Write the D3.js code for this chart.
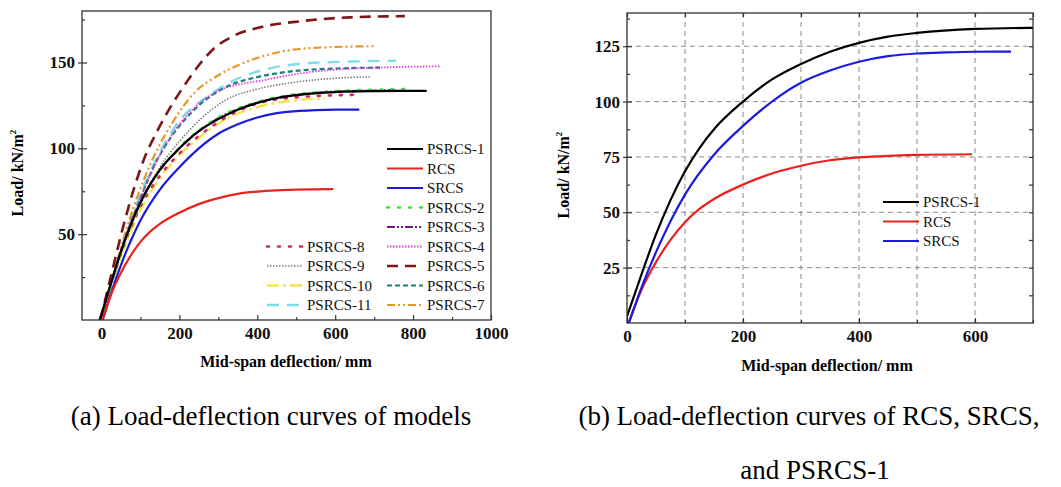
<!DOCTYPE html>
<html>
<head>
<meta charset="utf-8">
<script src="https://cdn.jsdelivr.net/npm/d3@7"></script>
<style>
  body { margin: 0; background: #fff; }
  svg { display: block; font-family: "Liberation Serif", "Times New Roman", serif; }
</style>
</head>
<body>
<div id="chart"></div>
<script>
// Load-deflection data: [deflection (mm), load (kN/m2)]
const psrcs1 = [[-4,0],[25,22],[50,40],[75,55.5],[100,68.5],[125,79],[150,87.5],[200,100],[250,110],[300,117],[350,122.5],[400,126.5],[450,129.3],[500,131],[600,132.8],[700,133.3],[835,133.5]];
const rcs = [[3,0],[25,15],[50,27.5],[75,37.5],[100,45.5],[125,51.5],[150,56],[200,62.5],[250,67.5],[300,71],[350,73.5],[400,74.8],[450,75.5],[500,75.9],[595,76.2]];
const srcs = [[3,0],[25,16],[50,32],[75,46],[100,58],[150,76],[200,89],[250,100],[300,108.5],[350,114],[400,118],[450,120.5],[500,121.7],[550,122.2],[600,122.5],[662,122.6]];
const psrcs2 = [[-2,0],[25,21.5],[50,39.5],[75,55],[100,68],[150,87],[200,100.5],[250,110.5],[300,118],[400,127],[500,131.5],[600,133.3],[700,134.2],[791,134.5]];
const psrcs3 = [[-2,0],[25,22],[50,40],[75,55.5],[100,68.5],[150,87.5],[200,100],[250,110],[300,117.5],[400,126.5],[500,131],[600,133],[760,133.8]];
const psrcs4 = [[-5,0],[30,25],[60,47],[100,71],[150,96],[200,114],[250,126],[305,134],[424,140],[520,144],[650,146.5],[868,147.8]];
const psrcs5 = [[-3,0],[28,29],[53,52],[80,74],[108,93],[143,110],[177,124],[211,136],[252,149],[288,158],[339,165.5],[407,170.5],[510,174],[638,176.3],[779,177]];
const psrcs6 = [[-5,0],[30,25],[60,47],[100,71],[140,92],[177,106],[236,122],[322,136],[400,141.5],[493,145],[600,146.5],[715,147]];
const psrcs7 = [[-5,0],[30,26],[60,50],[83,66],[134,95],[185,116],[237,132],[296,142],[356,149],[420,154],[493,157.5],[595,159],[702,159.5]];
const psrcs8 = [[-2,0],[25,21],[50,38.5],[75,53.5],[100,66],[150,84],[200,97],[288,113.5],[399,126],[518,130],[655,131.2]];
const psrcs9 = [[-5,0],[30,24],[60,45],[100,67],[150,89],[200,104],[236,113],[322,128.5],[400,134.5],[493,138.4],[600,140.8],[693,141.7]];
const psrcs10 = [[-5,0],[25,20],[50,37],[75,51.5],[100,64],[150,82.5],[200,96],[250,106],[300,114.5],[400,124],[500,128],[574,129]];
const psrcs11 = [[-5,0],[30,25],[60,48],[100,73],[150,98],[200,116],[271,130],[339,139.5],[441,147],[530,149.5],[629,150.5],[757,151]];

const seriesNames = ['PSRCS-1','RCS','SRCS','PSRCS-2','PSRCS-3','PSRCS-4','PSRCS-5','PSRCS-6','PSRCS-7','PSRCS-8','PSRCS-9','PSRCS-10','PSRCS-11'];
const seriesData = [psrcs1, rcs, srcs, psrcs2, psrcs3, psrcs4, psrcs5, psrcs6, psrcs7, psrcs8, psrcs9, psrcs10, psrcs11];
const panelBNames = ['PSRCS-1','RCS','SRCS'];

const xTicksA = [0, 200, 400, 600, 800, 1000];
const yTicksA = [50, 100, 150];
const xTicksB = [0, 200, 400, 600];
const yTicksB = [25, 50, 75, 100, 125];

// line styles per series
const styles = {
  'PSRCS-1': { color: '#000000', dash: null, w: 2.2 },
  'RCS': { color: '#e8231f', dash: null, w: 2.2 },
  'SRCS': { color: '#1b1bd9', dash: null, w: 2.2 },
  'PSRCS-2': { color: '#3ee23e', dash: '2,9', w: 2.6, cap: 'round' },
  'PSRCS-3': { color: '#6b1d7c', dash: '8,2,2,2,2,2', w: 2.2 },
  'PSRCS-4': { color: '#e03ee0', dash: '1.5,1.5', w: 1.8 },
  'PSRCS-5': { color: '#7c1717', dash: '11,7', w: 2.6 },
  'PSRCS-6': { color: '#1d7f78', dash: '5,3', w: 2.2 },
  'PSRCS-7': { color: '#e8962b', dash: '8,3,2,3,2,3', w: 2.2 },
  'PSRCS-8': { color: '#d6266f', dash: '2,9', w: 2.6, cap: 'round' },
  'PSRCS-9': { color: '#808080', dash: '1.5,1.5', w: 1.6 },
  'PSRCS-10': { color: '#f2e64a', dash: '12,4,3,4', w: 2.4 },
  'PSRCS-11': { color: '#7fdde8', dash: '12,8', w: 2.4 }
};

const FONT = '"Liberation Serif", "Times New Roman", serif';

const svg = d3.select('#chart').append('svg')
    .attr('width', 1061)
    .attr('height', 487);

const line = (x, y) => d3.line().x(d => x(d[0])).y(d => y(d[1])).curve(d3.curveMonotoneX);

function styleLabels(a) {
    a.attr('font-family', FONT);
    a.selectAll('text').attr('font-size', 17).attr('font-weight', 'bold').attr('fill', '#111');
}

function drawPanel(id, x, y, xTicks, yTicks, xMinor, yMinor, mirror) {
    const g = svg.append('g');
    const [x0, x1] = x.range();
    const [y0, y1] = y.range();

    g.append('clipPath').attr('id', id)
        .append('rect').attr('x', x0).attr('y', y1).attr('width', x1 - x0).attr('height', y0 - y1);

    // bottom axis: major and minor ticks pointing inward
    g.append('g').attr('transform', `translate(0,${y0})`)
        .call(d3.axisBottom(x).tickValues(xMinor).tickSize(-3).tickFormat(''))
        .call(a => a.select('.domain').remove());
    g.append('g').attr('transform', `translate(0,${y0})`)
        .call(d3.axisBottom(x).tickValues(xTicks).tickSizeInner(-5).tickSizeOuter(0).tickPadding(7).tickFormat(d3.format('d')))
        .call(a => a.select('.domain').remove())
        .call(styleLabels);

    // left axis
    g.append('g').attr('transform', `translate(${x0},0)`)
        .call(d3.axisLeft(y).tickValues(yMinor).tickSize(-3).tickFormat(''))
        .call(a => a.select('.domain').remove());
    g.append('g').attr('transform', `translate(${x0},0)`)
        .call(d3.axisLeft(y).tickValues(yTicks).tickSizeInner(4).tickSizeOuter(0).tickPadding(3))
        .call(a => a.select('.domain').remove())
        .call(styleLabels)
        .call(a => a.selectAll('line').attr('x2', 0).attr('x1', -4).clone().attr('x1', 0).attr('x2', 5));

    if (mirror) {
        g.append('g').attr('transform', `translate(0,${y1})`)
            .call(d3.axisTop(x).tickValues(xTicks.concat(xMinor)).tickSize(-4).tickFormat(''))
            .call(a => a.select('.domain').remove());
        g.append('g').attr('transform', `translate(${x1},0)`)
            .call(d3.axisRight(y).tickValues(yTicks.concat(yMinor)).tickSize(-4).tickFormat(''))
            .call(a => a.select('.domain').remove());
    }

    g.selectAll('.tick line').attr('stroke', '#333').attr('stroke-width', 1.2);
    return g;
}

// ---------- panel (a) ----------
const xA = d3.scaleLinear().domain([-50, 1000]).range([82, 491]);
const yA = d3.scaleLinear().domain([0, 180]).range([320, 11]);
const gA = drawPanel('clipA', xA, yA, xTicksA, yTicksA, [100, 300, 500, 700, 900], [25, 75, 125, 175], false);

gA.append('g').attr('clip-path', 'url(#clipA)')
  .selectAll('path')
  .data(seriesNames.map((n, i) => ({ name: n, values: seriesData[i] })).reverse())
  .enter().append('path')
    .attr('d', d => line(xA, yA)(d.values))
    .attr('fill', 'none')
    .attr('stroke', d => styles[d.name].color)
    .attr('stroke-width', d => styles[d.name].w)
    .attr('stroke-dasharray', d => styles[d.name].dash)
    .attr('stroke-linecap', d => styles[d.name].cap || 'butt');

gA.append('rect').attr('x', 82).attr('y', 11).attr('width', 409).attr('height', 309)
    .attr('fill', 'none').attr('stroke', '#333').attr('stroke-width', 1.3);

// legend (a): right column for first nine, left column for last four
const legA = gA.append('g');
seriesNames.forEach((n, i) => {
    const col = i < 9 ? 0 : 1;
    const row = i < 9 ? i : i - 4;
    const lx = col === 0 ? 387 : 267;
    const ly = 149 + row * 19.5;
    legA.append('line').attr('x1', lx).attr('x2', lx + 36).attr('y1', ly).attr('y2', ly)
        .attr('stroke', styles[n].color).attr('stroke-width', styles[n].w)
        .attr('stroke-dasharray', styles[n].dash).attr('stroke-linecap', styles[n].cap || 'butt');
    legA.append('text').attr('x', lx + 40).attr('y', ly).attr('dy', '0.35em')
        .attr('font-size', 15).attr('fill', '#111').text(n);
});

// axis titles (a)
svg.append('text').attr('x', 286).attr('y', 367).attr('text-anchor', 'middle')
    .attr('font-size', 16).attr('font-weight', 'bold').text('Mid-span deflection/ mm');
const ytA = svg.append('text').attr('transform', 'translate(23,173) rotate(-90)').attr('text-anchor', 'middle')
    .attr('font-size', 16).attr('font-weight', 'bold');
ytA.append('tspan').text('Load/ kN/m');
ytA.append('tspan').attr('font-size', 9).attr('dy', -7).text('2');

// ---------- panel (b) ----------
const xB = d3.scaleLinear().domain([0, 700]).range([627, 1033]);
const yB = d3.scaleLinear().domain([0, 140]).range([323, 13]);

// dashed grid
const gridB = svg.append('g');
gridB.selectAll('.gx').data([100, 200, 300, 400, 500, 600]).enter().append('line')
    .attr('x1', d => xB(d)).attr('x2', d => xB(d)).attr('y1', 13).attr('y2', 323);
gridB.selectAll('.gy').data(yTicksB).enter().append('line')
    .attr('y1', d => yB(d)).attr('y2', d => yB(d)).attr('x1', 627).attr('x2', 1033);
gridB.selectAll('line').attr('stroke', '#8a8a8a').attr('stroke-width', 1).attr('stroke-dasharray', '5,4');

const gB = drawPanel('clipB', xB, yB, xTicksB, yTicksB, [100, 300, 500, 700], [12.5, 37.5, 62.5, 87.5, 112.5, 137.5], true);

gB.append('g').attr('clip-path', 'url(#clipB)')
  .selectAll('path')
  .data(panelBNames.map(n => ({ name: n, values: seriesData[seriesNames.indexOf(n)] })))
  .enter().append('path')
    .attr('d', d => line(xB, yB)(d.values))
    .attr('fill', 'none')
    .attr('stroke', d => styles[d.name].color)
    .attr('stroke-width', 2.2);

gB.append('rect').attr('x', 627).attr('y', 13).attr('width', 406).attr('height', 310)
    .attr('fill', 'none').attr('stroke', '#333').attr('stroke-width', 1.3);

const legB = gB.append('g');
panelBNames.forEach((n, i) => {
    const ly = 202 + i * 19.5;
    legB.append('line').attr('x1', 883).attr('x2', 919).attr('y1', ly).attr('y2', ly)
        .attr('stroke', styles[n].color).attr('stroke-width', 2.2);
    legB.append('text').attr('x', 923).attr('y', ly).attr('dy', '0.35em')
        .attr('font-size', 15).attr('fill', '#111').text(n);
});

svg.append('text').attr('x', 827).attr('y', 371).attr('text-anchor', 'middle')
    .attr('font-size', 16).attr('font-weight', 'bold').text('Mid-span deflection/ mm');
const ytB = svg.append('text').attr('transform', 'translate(569,175) rotate(-90)').attr('text-anchor', 'middle')
    .attr('font-size', 16).attr('font-weight', 'bold');
ytB.append('tspan').text('Load/ kN/m');
ytB.append('tspan').attr('font-size', 9).attr('dy', -7).text('2');

// captions
svg.append('text').attr('x', 271).attr('y', 425).attr('text-anchor', 'middle')
    .attr('font-size', 27).text('(a) Load-deflection curves of models');
svg.append('text').attr('x', 809).attr('y', 425).attr('text-anchor', 'middle')
    .attr('font-size', 27).text('(b) Load-deflection curves of RCS, SRCS,');
svg.append('text').attr('x', 815).attr('y', 479).attr('text-anchor', 'middle')
    .attr('font-size', 27).text('and PSRCS-1');
</script>
</body>
</html>
